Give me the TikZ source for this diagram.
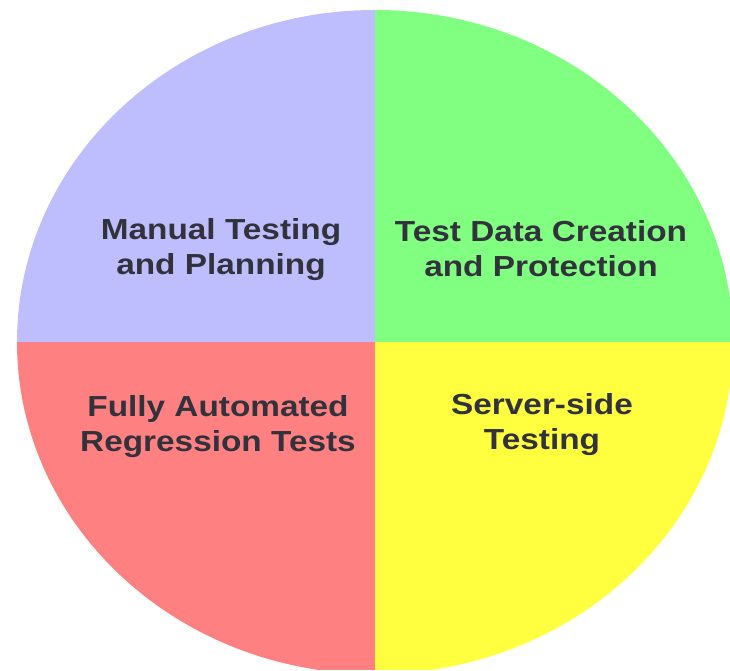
\documentclass[tikz,border=0pt]{standalone}
\usepackage{fontspec}
\newfontfamily\lblfont{Liberation Sans}[FakeStretch=1.15]
\definecolor{lav}{RGB}{190,190,255}
\definecolor{grn}{RGB}{128,255,128}
\definecolor{rd}{RGB}{255,128,128}
\definecolor{yel}{RGB}{255,255,64}
\definecolor{txt}{RGB}{50,50,60}
\tikzset{lbl/.style={align=center,text=txt,font=\lblfont\bfseries\fontsize{29}{35}\selectfont,inner sep=0pt}}
\begin{document}
\begin{tikzpicture}[x=1pt,y=1pt]
\clip (0,0) rectangle (730,670);
\fill[white] (0,0) rectangle (730,670);
\begin{scope}
\clip (375,328) ellipse [x radius=358, y radius=332];
\fill[lav] (0,328) rectangle (375,670);
\fill[grn] (375,328) rectangle (730,670);
\fill[rd] (0,0) rectangle (375,328);
\fill[yel] (375,0) rectangle (730,328);
\end{scope}
\node[lbl] (manual) at (221,420) {Manual Testing\\and Planning};
\node[lbl] (data) at (541,421) {Test Data Creation\\and Protection};
\node[lbl] (auto) at (218,243) {Fully Automated\\Regression Tests};
\node[lbl] (server) at (542,245) {Server-side\\Testing};
\end{tikzpicture}
\end{document}
